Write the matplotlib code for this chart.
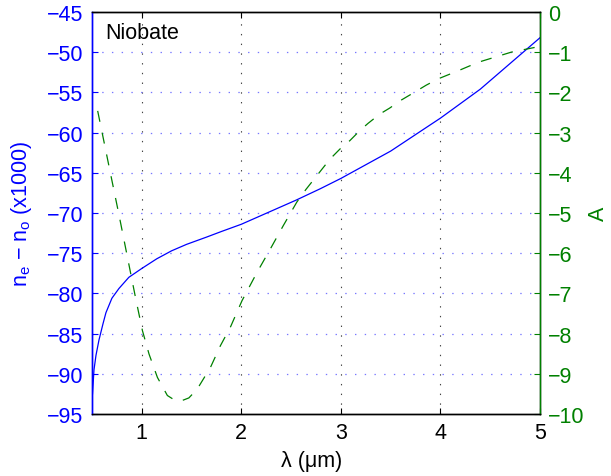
import matplotlib
matplotlib.use('Agg')
import matplotlib.pyplot as plt

plt.rcParams['font.family'] = ['Liberation Sans', 'DejaVu Sans']
plt.rcParams['mathtext.fontset'] = 'custom'
plt.rcParams['mathtext.rm'] = 'Liberation Sans'
plt.rcParams['lines.scale_dashes'] = False

BLUE = '#0000ff'
GREEN = '#008000'
FS = 15.5

# birefringence curve (left axis)
lam_n = [0.505, 0.52, 0.54, 0.57, 0.61, 0.64, 0.7, 0.77, 0.87, 1.0, 1.15, 1.3,
         1.45, 1.65, 1.8, 2.0, 2.55, 2.79, 3.0, 3.5, 3.89, 4.0, 4.4, 4.7, 5.0]
dn = [-92.5, -89.5, -87.7, -85.8, -83.8, -82.4, -80.6, -79.4, -78.0, -76.9,
      -75.7, -74.7, -73.9, -73.0, -72.3, -71.4, -68.4, -67.0, -65.7, -62.3,
      -59.1, -58.2, -54.6, -51.4, -48.2]

# A curve (right axis)
lam_a = [0.557, 0.69, 0.773, 0.873, 0.94, 1.007, 1.073, 1.157, 1.257, 1.34,
         1.40, 1.473, 1.557, 1.69, 1.79, 1.89, 2.007, 2.157, 2.29, 2.42, 2.557,
         2.647, 2.89, 2.99, 3.09, 3.19, 3.273, 3.39, 3.49, 3.607, 3.723, 3.857,
         3.98, 4.18, 4.38, 4.71, 4.95]
A = [-2.46, -4.07, -5.07, -6.31, -7.14, -7.93, -8.51, -9.09, -9.54, -9.67,
     -9.67, -9.6, -9.38, -8.84, -8.3, -7.84, -7.18, -6.48, -5.9, -5.32, -4.73,
     -4.42, -3.66, -3.41, -3.2, -2.95, -2.77, -2.54, -2.39, -2.19, -2.02, -1.82,
     -1.66, -1.46, -1.25, -1.0, -0.88]

xticks = [1, 2, 3, 4, 5]
left_ticks = list(range(-95, -44, 5))
right_ticks = list(range(-10, 1))

fig = plt.figure(figsize=(6.11, 4.77), dpi=100)
ax1 = fig.add_axes([92/611, 1-415/477, 448/611, 402/477])
ax2 = ax1.twinx()

ax1.plot(lam_n, dn, color=BLUE, lw=0.9)
ax2.plot(lam_a, A, color=GREEN, lw=0.9, linestyle=(0, (8, 8)))

ax1.set_xlim(0.5, 5)
ax1.set_ylim(-95, -45)
ax2.set_ylim(-10, 0)
ax1.set_xticks(xticks)
ax1.set_yticks(left_ticks)
ax2.set_yticks(right_ticks)

# grid: vertical gray dots, horizontal blue dots
for x in xticks[:-1]:
    ax1.axvline(x, color='#444444', lw=0.8, linestyle=(0, (1, 6)), zorder=0)
for y in left_ticks[1:-1]:
    ax1.axhline(y, color='#7777ff', lw=0.9, linestyle=(0, (1, 6)), zorder=0)

ax1.tick_params(axis='x', direction='in', length=4, top=True, labelsize=FS,
                pad=6, colors='black')
ax1.tick_params(axis='y', direction='in', length=4, labelsize=FS, pad=6,
                colors=BLUE)
ax2.tick_params(axis='y', direction='in', length=4, labelsize=FS, pad=6,
                colors=GREEN)

for ax in (ax1, ax2):
    for s in ax.spines.values():
        s.set_linewidth(1.0)
ax2.spines['left'].set_color(BLUE)
ax2.spines['right'].set_color(GREEN)
ax2.spines['top'].set_color('black')
ax2.spines['bottom'].set_color('black')
ax1.spines['left'].set_color(BLUE)

ax1.set_xlabel('λ (μm)', fontsize=FS, va='center')
ax1.xaxis.set_label_coords((312-92)/448, (415-462)/402)
ax1.set_ylabel(r'n$_\mathregular{e}$ − n$_\mathregular{o}$ (x1000)',
               fontsize=FS, color=BLUE, va='center')
ax1.yaxis.set_label_coords((22-92)/448, 0.5)
ax2.set_ylabel('A', fontsize=FS, color=GREEN, rotation=90, va='center')
ax2.yaxis.set_label_coords((598-92)/448, 0.5)

ax1.text(0.029, 0.948, 'Niobate', transform=ax1.transAxes, fontsize=FS,
         va='center', ha='left')

fig.savefig('out.png', dpi=100)
